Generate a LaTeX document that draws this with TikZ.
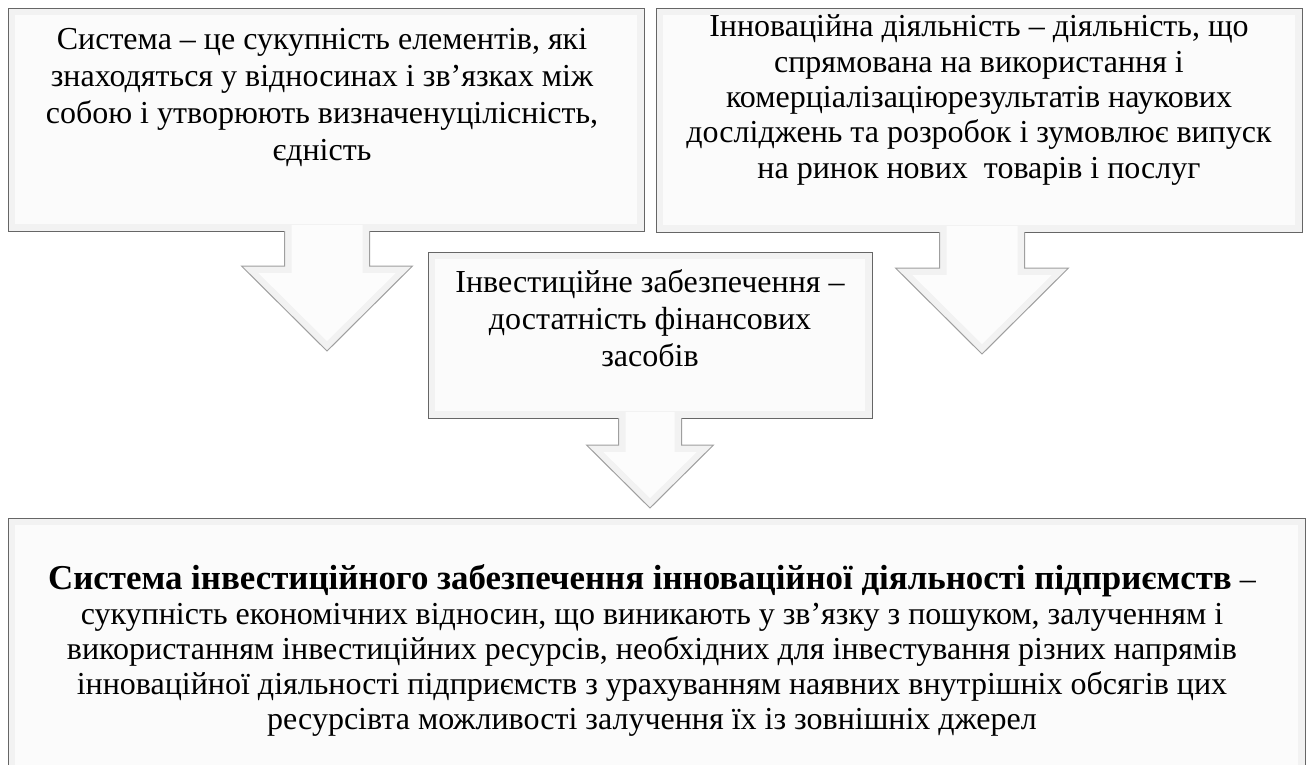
\documentclass[tikz,border=0pt]{standalone}
\usepackage{fontspec}
\setmainfont{Liberation Serif}
\newcommand{\blockarrow}[6]{% #1 cx, #2 top, #3 stem half, #4 head half, #5 head y, #6 tip y
  \fill[arrowedge] ({#1-#3},{#2-6}) -- ({#1-#3},#5) -- ({#1-#4},#5) -- (#1,#6) -- ({#1+#4},#5) -- ({#1+#3},#5) -- ({#1+#3},{#2-6}) -- cycle;
  \fill[arrowface] ({#1-#3+7},{#2-6}) -- ({#1-#3+7},{#5+7}) -- ({#1-#4+16.9},{#5+7}) -- (#1,{#6-9.9}) -- ({#1+#4-16.9},{#5+7}) -- ({#1+#3-7},{#5+7}) -- ({#1+#3-7},{#2-6}) -- cycle;
  \draw[arrowline] ({#1-#3},#2) -- ({#1-#3},#5) -- ({#1-#4},#5) -- (#1,#6) -- ({#1+#4},#5) -- ({#1+#3},#5) -- ({#1+#3},#2);
}
\begin{document}
\begin{tikzpicture}[x=1pt,y=-1pt,
  panel/.style={draw=gray!80!black, line width=1.3pt, fill=gray!10, inner sep=0pt},
  face/.style={fill=white!97!gray},
  arrowedge/.style={fill=gray!10},
  arrowface/.style={fill=white!98!gray},
  arrowline/.style={draw=gray!75, line width=1pt, line join=miter},
  label/.style={align=center, inner sep=0pt, font=\fontsize{32}{37}\selectfont},
  tightlabel/.style={align=center, inner sep=0pt, font=\fontsize{32}{35.3}\selectfont},
  biglabel/.style={align=center, inner sep=0pt, font=\fontsize{32}{35}\selectfont}
]
\useasboundingbox (0,0) rectangle (1308,764);
\fill[white] (0,0) rectangle (1308,764);

% boxes
\node[panel, anchor=north west, minimum width=636pt, minimum height=223pt] (box1) at (8,8) {};
\fill[face] (15,15) rectangle (637,224);
\node[panel, anchor=north west, minimum width=646pt, minimum height=224pt] (box2) at (656,8) {};
\fill[face] (663,15) rectangle (1295,225);
\node[panel, anchor=north west, minimum width=444pt, minimum height=166pt] (box3) at (428,252) {};
\fill[face] (435,259) rectangle (865,411);
\node[panel, anchor=north west, minimum width=1297pt, minimum height=260pt] (box4) at (8,518) {};
\fill[face] (15,525) rectangle (1298,778);

% block arrows
\blockarrow{327}{231}{42.5}{85.5}{266}{351}
\blockarrow{982}{232}{42.5}{86.5}{268}{354}
\blockarrow{650}{418}{31.5}{63.5}{445}{508}

% texts
\node[label] (t1) at (322,97) {Система – це сукупність елементів, які\\знаходяться у відносинах і зв’язках між\\собою і утворюють визначенуцілісність,\\єдність};
\node[tightlabel] (t2) at (979,100) {Інноваційна діяльність – діяльність, що\\спрямована на використання і\\комерціалізаціюрезультатів наукових\\досліджень та розробок і зумовлює випуск\\на ринок нових\ \ товарів і послуг};
\node[label] (t3) at (650,318) {Інвестиційне забезпечення –\\достатність фінансових\\засобів};
\node[biglabel] (t4) at (652,650) {{\fontsize{34.9}{35}\selectfont\textbf{Система інвестиційного забезпечення інноваційної діяльності підприємств}} –\\сукупність економічних відносин, що виникають у зв’язку з пошуком, залученням і\\використанням інвестиційних ресурсів, необхідних для інвестування різних напрямів\\інноваційної діяльності підприємств з урахуванням наявних внутрішніх обсягів цих\\ресурсівта можливості залучення їх із зовнішніх джерел};
\end{tikzpicture}
\end{document}
